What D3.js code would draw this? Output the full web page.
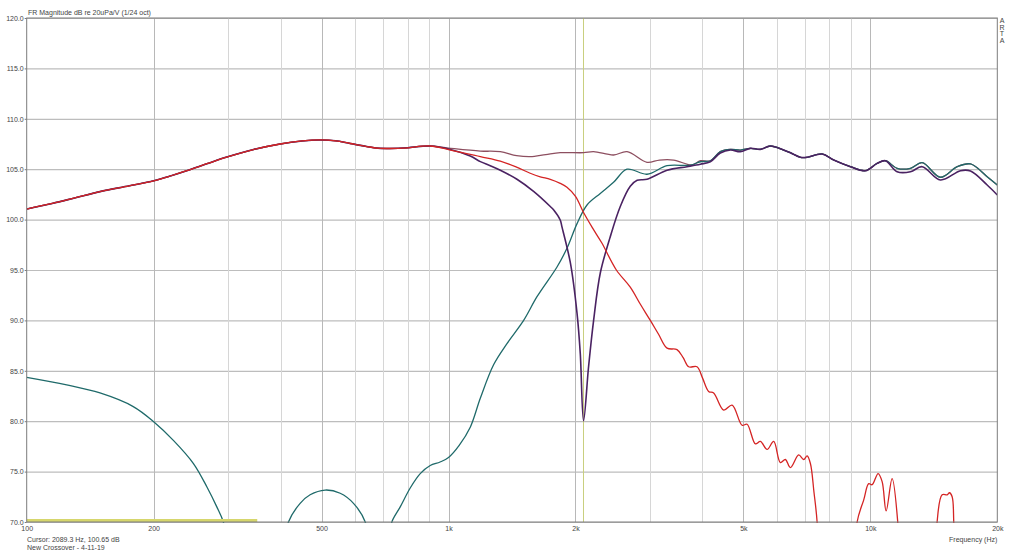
<!DOCTYPE html>
<html><head><meta charset="utf-8">
<script src="https://cdn.jsdelivr.net/npm/d3@7"></script>
<style>
html,body{margin:0;padding:0;background:#fff;}
svg{display:block;font-family:"Liberation Sans",Arial,sans-serif;}
</style></head>
<body>
<svg id="c" width="1024" height="552"></svg>
<script>
// ---------- data ----------
const yTickValues = [70,75,80,85,90,95,100,105,110,115,120];
const xTickValues = [100,200,500,1000,2000,5000,10000,20000];
const xTickLabels = ["100","200","500","1k","2k","5k","10k","20k"];
const majorGrid = [200,500,1000,2000,5000,10000];
const minorGrid = [300,400,600,700,800,900,3000,4000,6000,7000,8000,9000];
const cursorFreq = 2089.3;

// shared low-frequency part (woofer dominated)
const lowShared = [[100,101.05],[115,101.6],[130,102.15],[150,102.8],[175,103.35],[200,103.85],[220,104.35],[239.6,104.85],[270,105.6],[298,106.2],[344.8,106.95],[398.9,107.5],[450,107.8],[496.4,107.9],[540,107.82],[584.6,107.55],[640,107.25],[689,107.07],[780,107.1],[905,107.3]];

const redTail = [[1000,106.95],[1190,106.25],[1327,105.8],[1450,105.2],[1562,104.6],[1650,104.25],[1743,104.0],[1840,103.6],[1909,103.2],[2000,102.3],[2090,100.7],[2200,99.1],[2308,97.7],[2500,95.0],[2697,93.3],[2850,91.6],[3009,90.0],[3150,88.6],[3297,87.25],[3481,87.1],[3600,86.3],[3710,85.4],[3883,85.4],[4000,84.3],[4137,82.95],[4252,82.8],[4491,81.1],[4702,81.6],[4965,79.6],[5103,79.7],[5340,77.75],[5487,78.0],[5692,77.2],[5901,78.0],[6120,75.9],[6289,76.2],[6463,75.4],[6764,76.65],[6950,76.2],[7082,76.55],[7210,75.8],[7350,73.0],[7479,70.0],[7600,62],[9100,62],[9305,70.0],[9647,72.2],[9913,73.8],[10099,73.7],[10435,74.8],[10666,74.0],[10902,71.1],[11263,74.3],[11614,70.0],[11800,62],[14200,62],[14398,70.0],[14800,72.7],[15212,72.7],[15403,72.9],[15631,72.5],[15768,70.0],[15900,62],[20000,62]];

const tealLow = [[100,84.35],[124.4,83.6],[149.2,82.8],[178.9,81.45],[200,79.95],[222.7,78.1],[248.5,75.8],[267.3,73.5],[282.3,71.5],[292.7,69.97],[300,67],[340,62],[390,62],[413,69],[417.4,70.0],[444.9,71.85],[469.8,72.7],[510,73.17],[553.6,72.85],[595.3,71.85],[634.7,70.0],[650,67],[690,64],[725,68.5],[733.9,70.0],[768.3,71.5],[812,73.4],[857,74.8],[905,75.6],[955,75.95],[1000,76.4],[1060,77.6],[1126,79.4],[1190,82.3],[1279,85.6],[1376,87.7],[1507,90.0],[1621,92.35],[1808,95.3],[1909,97.15],[2017,99.6],[2130,101.45],[2290,102.6],[2462,103.7],[2650,105.0],[2955,104.5],[3297,105.35],[3744,105.4],[3954,105.74],[4175,105.84],[4409,106.74],[4658,106.97],[4920,106.9]];

const purpleMid = [[1000,107.0],[1126,106.3],[1190,105.75],[1256,105.35],[1327,104.9],[1453,104.0],[1591,102.8],[1743,101.3],[1776,100.95],[1840,99.96],[1857,99.3],[1945,95.7],[2017,90.7],[2053,86.7],[2090,80.05],[2148,85.4],[2208,90.0],[2290,94.7],[2418,98.3],[2554,101.3],[2697,103.3],[2800,103.9],[2955,104.0],[3297,104.9],[3677,105.25],[3954,105.5],[4175,105.74],[4409,106.6],[4658,106.9],[4920,106.74]];

const mauveMid = [[1000,107.1],[1190,106.8],[1327,106.74],[1450,106.35],[1562,106.24],[1700,106.45],[1840,106.64],[2090,106.64],[2208,106.74],[2462,106.41],[2650,106.74],[2955,105.68],[3163,105.91],[3417,105.91],[3776,105.42],[3954,105.84],[4175,105.84],[4409,106.74],[4658,106.97],[4920,106.9]];

// shared high-frequency part (tweeter dominated)
const highShared = [[5195,107.07],[5487,106.97],[5794,107.3],[6232,106.9],[6463,106.64],[6829,106.18],[7082,106.18],[7685,106.51],[8189,105.91],[8969,105.25],[9737,104.85],[10378,105.58],[10860,105.84]];

const tealHigh = [[11576,105.09],[12452,105.09],[13272,105.65],[14663,104.2],[16066,105.25],[17278,105.52],[18923,104.26],[20000,103.43]];
const purpleHigh = [[11576,104.75],[12452,104.75],[13272,105.25],[14663,103.93],[16357,104.85],[17278,104.82],[18923,103.43],[20000,102.44]];

const yellowTrace = [[100,70.15],[352,70.15]];

const series = [
  {name:"mauve",  color:"#8d4f60", data: lowShared.concat(mauveMid, highShared, tealHigh)},
  {name:"teal",   color:"#1f6a6a", data: tealLow.concat(highShared, tealHigh)},
  {name:"purple", color:"#4a2262", data: lowShared.concat(purpleMid, highShared, purpleHigh), width:1.6},
  {name:"red",    color:"#d42424", data: lowShared.concat(redTail)},
  {name:"yellow", color:"#d6d66c", data: yellowTrace, width:3}
];

// ---------- layout ----------
const L = 26.7, R = 997.3, T = 18, B = 522;
const svg = d3.select("#c");
const x = d3.scaleLog().domain([100,20000]).range([L,R]);
const y = d3.scaleLinear().domain([70,120]).range([B,T]);

// grid
const g = svg.append("g");
g.selectAll(".hg").data(yTickValues).join("line")
  .attr("x1",L).attr("x2",R).attr("y1",d=>y(d)+0.5).attr("y2",d=>y(d)+0.5)
  .attr("stroke","#bdbdbd").attr("stroke-width",1.2);
g.selectAll(".vmin").data(minorGrid).join("line")
  .attr("x1",d=>Math.round(x(d))+0.5).attr("x2",d=>Math.round(x(d))+0.5).attr("y1",T).attr("y2",B)
  .attr("stroke","#d6d6d6").attr("stroke-width",1);
g.selectAll(".vmaj").data(majorGrid).join("line")
  .attr("x1",d=>Math.round(x(d))+0.5).attr("x2",d=>Math.round(x(d))+0.5).attr("y1",T).attr("y2",B)
  .attr("stroke","#b8b8b8").attr("stroke-width",1);

// cursor
svg.append("line")
  .attr("x1",x(cursorFreq)).attr("x2",x(cursorFreq)).attr("y1",T).attr("y2",B)
  .attr("stroke","#c9cf7e").attr("stroke-width",1);

// curves
svg.append("clipPath").attr("id","clip").append("rect")
  .attr("x",L).attr("y",T).attr("width",R-L).attr("height",B-T+1);
const line = d3.line().x(d=>x(d[0])).y(d=>y(d[1])).curve(d3.curveCatmullRom.alpha(0.5));
svg.append("g").attr("clip-path","url(#clip)")
  .selectAll("path").data(series).join("path")
  .attr("d",d=>line(d.data)).attr("fill","none")
  .attr("stroke",d=>d.color).attr("stroke-width",d=>d.width||1.3)
  .attr("stroke-linejoin","round");

// frame
svg.append("rect").attr("x",L).attr("y",T).attr("width",R-L).attr("height",B-T)
  .attr("fill","none").attr("stroke","#7c7c7c").attr("stroke-width",1);

// axes
const ya = svg.append("g").attr("transform",`translate(${L},0)`)
  .call(d3.axisLeft(y).tickValues(yTickValues).tickFormat(d3.format(".1f")).tickSize(2).tickPadding(1));
const xa = svg.append("g").attr("transform",`translate(0,${B})`)
  .call(d3.axisBottom(x).tickValues(xTickValues).tickFormat((d,i)=>xTickLabels[i]).tickSize(0).tickPadding(4));
[ya,xa].forEach(a=>{
  a.select(".domain").remove();
  a.selectAll("line").attr("stroke","#7c7c7c");
  a.selectAll("text").attr("fill","#444").style("font-size","7px").style("font-family",'"Liberation Sans",Arial,sans-serif');
});

// texts
const txt = (s,xx,yy,anchor)=>svg.append("text").text(s).attr("x",xx).attr("y",yy)
  .attr("text-anchor",anchor||"start").attr("fill","#444").style("font-size","7px");
txt("FR Magnitude dB re 20uPa/V (1/24 oct)", 28, 14.5);
txt("Frequency (Hz)", R, 541.5, "end");
txt("Cursor: 2089.3 Hz, 100.65 dB", 27, 541.5);
txt("New Crossover - 4-11-19", 27, 550);
["A","R","T","A"].forEach((c,i)=>txt(c, 1002, 23+i*6.7, "middle"));
</script>
</body></html>
